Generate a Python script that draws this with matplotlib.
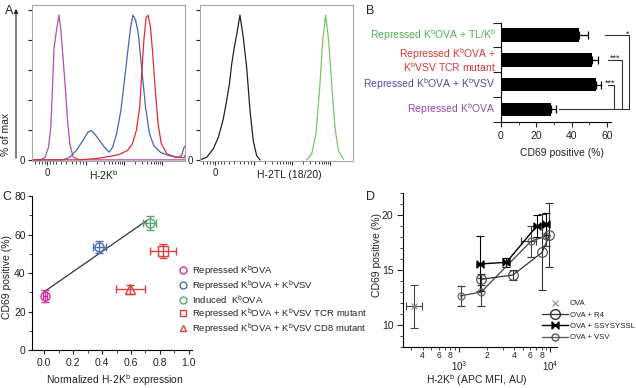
import numpy as np
import matplotlib
matplotlib.use("Agg")
import matplotlib.pyplot as plt
from matplotlib.path import Path
from matplotlib.lines import Line2D
from matplotlib.patches import FancyArrowPatch
from matplotlib.ticker import FixedLocator, FixedFormatter, NullFormatter

plt.rcParams['font.family'] = ['Liberation Sans', 'DejaVu Sans']
plt.rcParams['mathtext.fontset'] = 'custom'
plt.rcParams['mathtext.rm'] = 'Liberation Sans'
plt.rcParams['mathtext.it'] = 'Liberation Sans:italic'
plt.rcParams['font.size'] = 7.5
plt.rcParams['axes.linewidth'] = 0.8
plt.rcParams['xtick.major.width'] = 0.8
plt.rcParams['ytick.major.width'] = 0.8
plt.rcParams['xtick.minor.width'] = 0.6
plt.rcParams['ytick.minor.width'] = 0.6
plt.rcParams['text.color'] = '#222222'
plt.rcParams['xtick.color'] = '#222222'
plt.rcParams['ytick.color'] = '#222222'

# ---------------- data ----------------
# panel A left: H-2Kb histograms (channel 0-100, % of max)
rep_x = [0, 5.4, 8.6, 10.8, 12.3, 13.5, 14.4, 15.7, 17.6, 18.9, 20.4, 21.9, 23.2, 24.7, 26.9, 31.2, 100]
rep_y = [0, 0, 1.8, 8.8, 22.6, 52.7, 76.9, 87.3, 100, 89.6, 68.8, 48, 27.3, 11.1, 1.8, 0, 0]
vsv_x = [0, 20.4, 24.7, 29, 33.3, 36.6, 38.7, 40.9, 44.1, 47.3, 50.5, 52.7, 55.3, 58.1, 60.2, 62.4,
         64.5, 66, 67.7, 69.5, 71.6, 74.2, 76.8, 79.6, 83.9, 89.2, 95.7, 97.8, 99.4, 100]
vsv_y = [0, 0, 1.8, 6.5, 13.4, 19.2, 20.3, 18, 13.4, 8.8, 5.3, 8.8, 18, 34.2, 52.7, 73.4,
         91.9, 100, 96.5, 87.3, 64.2, 36.5, 18, 9.9, 5.3, 3, 1.8, 3, 8.8, 9.5]
tcr_x = [0, 31.2, 41.9, 50.5, 57, 62.4, 65.6, 68.2, 70.4, 72, 73.1, 74.6, 75.9, 77.4, 78.9,
         80.6, 82.4, 84.5, 88.2, 93.5, 99.4, 100]
tcr_y = [0, 0, 0.9, 2.3, 3.7, 6.5, 11.1, 20.3, 36.5, 64.2, 82.7, 98.4, 100, 91.9, 73.4,
         48, 24.9, 11.1, 4.2, 1.8, 1.5, 3]

# panel A right: H-2TL histograms
neg_x = [0, 4.4, 8.7, 12, 15.2, 17.4, 19.2, 20.7, 22.4, 24, 26.1, 28.3, 30.5, 32.7, 34.8, 37, 39.2]
neg_y = [0, 1.8, 7.6, 15.6, 28.2, 40.8, 52.3, 66.1, 77.5, 86.7, 100, 84.4, 63.8, 33.9, 13.3, 3, 0]
tl_x = [69.7, 73, 75.8, 78.4, 80.2, 82.1, 83.9, 86.1, 88.2, 90.4, 93.7]
tl_y = [0, 4.1, 17.9, 52.3, 82.1, 100, 84.4, 52.3, 22.5, 6.4, 0.5]

# panel B (bottom -> top)
b_labels = ['Repressed K$^{\\mathrm{b}}$OVA',
            'Repressed K$^{\\mathrm{b}}$OVA + K$^{\\mathrm{b}}$VSV',
            'Repressed K$^{\\mathrm{b}}$OVA +\nK$^{\\mathrm{b}}$VSV TCR mutant',
            'Repressed K$^{\\mathrm{b}}$OVA + TL/K$^{\\mathrm{b}}$']
b_colors = ['#9a48a8', '#4a4fa0', '#d93636', '#52b052']
b_values = [28, 53.5, 51.5, 44]
b_errors = [3, 3.3, 3.4, 5.1]
# (top bar index, x start, x of vertical, stars, star x, star y)
b_brackets = [(3, 59, 72.3, '*', 71.4, 3.05),
              (2, 60.5, 68.2, '***', 64.4, 2.08),
              (1, 60.6, 64.0, '***', 61.6, 1.07)]

# panel C
c_names = ['Repressed K$^{\\mathrm{b}}$OVA',
           'Repressed K$^{\\mathrm{b}}$OVA + K$^{\\mathrm{b}}$VSV',
           'Induced  K$^{\\mathrm{b}}$OVA',
           'Repressed K$^{\\mathrm{b}}$OVA + K$^{\\mathrm{b}}$VSV TCR mutant',
           'Repressed K$^{\\mathrm{b}}$OVA + K$^{\\mathrm{b}}$VSV CD8 mutant']
c_x = [0.005, 0.38, 0.73, 0.82, 0.595]
c_y = [28, 53.5, 66, 51.5, 31.5]
c_xerr = [0.015, 0.045, 0.045, 0.09, 0.1]
c_yerr = [3, 3, 3.5, 3.5, 2.2]
c_markers = ['o', 'o', 'o', 's', '^']
c_colors = ['#d0349a', '#4f6bb0', '#5aa870', '#d9403f', '#d9403f']
fit_x = [0.0, 0.71]
fit_y = [30.3, 67.3]

# panel D
ova_x, ova_y = [320], [11.7]
ova_xerr = [[60], [74]]
ova_yerr = [[2.0], [1.9]]
r4_x = [1750, 3900, 8100, 9750]
r4_y = [14.15, 14.55, 16.6, 18.2]
r4_yerr = [0.5, 0.45, 3.45, 2.9]
ss_x = [1700, 3300, 7100, 8900]
ss_y = [15.55, 15.7, 19.0, 19.2]
ss_yerr = [2.5, 0.4, 1.0, 1.0]
vsvd_x = [1040, 1750, 6100, 9000]
vsvd_y = [12.65, 13.0, 17.6, 18.1]
vsvd_yerr = [0.9, 1.25, 1.4, 0.9]
vsvd_xerr = [[0, 0, 1340, 0], [0, 0, 860, 0]]

# ---------------- layout helpers ----------------
W, H = 636, 388
fig = plt.figure(figsize=(W / 100, H / 100), dpi=100)


def px_axes(l, t, r, b):
    return fig.add_axes([l / W, 1 - b / H, (r - l) / W, (b - t) / H])


def ftext(x, y, s, **kw):
    fig.text(x / W, 1 - y / H, s, **kw)


# ---------------- panel A ----------------
hist_major = [10, 35, 60, 85]
hist_minor = [2, 4.5, 6.5, 8.5, 11.5, 13.5, 16, 19, 22.5, 26, 29, 31.5, 33.5]
for d in [35, 60]:
    hist_minor += [d + 25 * np.log10(k) for k in range(2, 10)]


def hist_axes(ax):
    for s in ax.spines.values():
        s.set_color('#a8a8a8')
        s.set_linewidth(0.8)
    ax.set_xlim(0, 100)
    ax.set_ylim(-0.8, 107)
    ax.set_yticks(np.linspace(0, 103.5, 6))
    ax.set_yticklabels(['0', '', '', '', '', ''])
    ax.xaxis.set_major_locator(FixedLocator(hist_major))
    ax.xaxis.set_major_formatter(FixedFormatter(['0', '', '', '']))
    ax.xaxis.set_minor_locator(FixedLocator(hist_minor))
    ax.tick_params(axis='both', which='major', length=3, pad=2, labelsize=7)
    ax.tick_params(axis='x', which='minor', length=2)


axA1 = px_axes(32, 5, 185, 161)
axA1.plot(rep_x, rep_y, color='#b050a8', lw=0.9)
axA1.plot(vsv_x, vsv_y, color='#5060b0', lw=0.9)
axA1.plot(tcr_x, tcr_y, color='#d83030', lw=0.9)
hist_axes(axA1)

axA2 = px_axes(200, 5, 353, 161)
axA2.plot(neg_x, neg_y, color='#222222', lw=0.9)
axA2.plot(tl_x, tl_y, color='#7cc46a', lw=0.9)
hist_axes(axA2)

fig.add_artist(FancyArrowPatch((16 / W, 1 - 161 / H), (16 / W, 1 - 6 / H),
                               transform=fig.transFigure, arrowstyle='-|>',
                               mutation_scale=6, lw=0.8, color='#222222'))
ftext(6, 134, '% of max', rotation=90, ha='center', va='center', fontsize=7.5)
ftext(104, 175, 'H-2K$^{\\mathrm{b}}$', ha='center', va='center', fontsize=7.5)
ftext(289, 175, 'H-2TL (18/20)', ha='center', va='center', fontsize=7.5)

# ---------------- panel B ----------------
axB = px_axes(501, 22.7, 610.7, 121.7)
yb = np.arange(len(b_values))
axB.barh(yb, b_values, height=0.55, color='black',
         xerr=[[0] * len(b_errors), b_errors],
         error_kw=dict(ecolor='black', capsize=3, elinewidth=0.9, capthick=0.9))
axB.set_xlim(0, 62)
axB.set_ylim(-0.5, 3.5)
axB.spines['top'].set_visible(False)
axB.spines['right'].set_visible(False)
axB.set_yticks([-0.5, 0.5, 1.5, 2.5, 3.5])
axB.set_yticklabels([])
axB.tick_params(axis='y', length=6)
axB.set_xticks([0, 20, 40, 60])
axB.set_xticks([10, 30, 50], minor=True)
axB.tick_params(axis='x', which='major', length=3.5, pad=3, labelsize=7.5)
axB.tick_params(axis='x', which='minor', length=2)
for i, (lab, col) in enumerate(zip(b_labels, b_colors)):
    axB.text(-3, yb[i], lab, color=col, ha='right', va='center',
             multialignment='right', fontsize=7.5, linespacing=0.85)
axB.plot([33, 72.3], [0, 0], color='#333333', lw=0.8, clip_on=False)
for top, x0, xv, stars, sx, sy in b_brackets:
    axB.plot([x0, xv, xv], [top, top, 0], color='#333333', lw=0.8, clip_on=False)
    axB.text(sx, sy, stars, ha='center', va='center', fontsize=6.5)
ftext(562, 153, 'CD69 positive (%)', ha='center', va='center', fontsize=7.5)

# ---------------- panel C ----------------
axC = px_axes(32, 196, 191.7, 350)
axC.plot(fit_x, fit_y, color='#333333', lw=0.9)
handles = []
for i in range(len(c_x)):
    axC.errorbar(c_x[i], c_y[i], xerr=c_xerr[i], yerr=c_yerr[i], fmt='none',
                 ecolor=c_colors[i], elinewidth=1.0, capsize=3, capthick=1.0)
    axC.plot(c_x[i], c_y[i], c_markers[i], ms=6.5, mfc='none', mec=c_colors[i], mew=1.0)
    handles.append(Line2D([], [], ls='none', marker=c_markers[i], ms=5, mfc='none',
                          mec=c_colors[i], mew=1.0))
axC.set_xlim(-0.085, 1.02)
axC.set_ylim(0, 80)
axC.spines['top'].set_visible(False)
axC.spines['right'].set_visible(False)
axC.set_xticks(np.arange(0, 1.01, 0.2))
axC.set_xticklabels(['0.0', '0.2', '0.4', '0.6', '0.8', '1.0'])
axC.set_xticks(np.arange(0.1, 1.0, 0.2), minor=True)
axC.set_yticks([0, 20, 40, 60, 80])
axC.set_yticks([10, 30, 50, 70], minor=True)
axC.tick_params(which='major', length=3, pad=1.5, labelsize=7.5)
axC.tick_params(axis='x', which='major', pad=3)
axC.tick_params(which='minor', length=2)
fig.legend(handles, c_names, loc='upper left', bbox_to_anchor=(179 / W, 1 - 263 / H),
           frameon=False, fontsize=6.8, handlelength=0.8, handletextpad=0.6,
           labelspacing=0.05, borderpad=0, borderaxespad=0)
ftext(7, 277, 'CD69 positive (%)', rotation=90, ha='center', va='center', fontsize=7.5)
ftext(115, 380, 'Normalized H-2K$^{\\mathrm{b}}$ expression', ha='center', va='center',
      fontsize=7.5)

# ---------------- panel D ----------------
bowtie = Path([(-1, -1), (0, 0), (-1, 1), (-1, -1), (1, -1), (0, 0), (1, 1), (1, -1)],
              [Path.MOVETO, Path.LINETO, Path.LINETO, Path.CLOSEPOLY,
               Path.MOVETO, Path.LINETO, Path.LINETO, Path.CLOSEPOLY])

axD = px_axes(402.5, 193, 557, 347)
eb = dict(elinewidth=0.8, capsize=3, capthick=0.8)
axD.errorbar(ova_x, ova_y, xerr=ova_xerr, yerr=ova_yerr, fmt='x', color='#888888',
             ecolor='#444444', ms=5, mew=0.8, **eb)
axD.errorbar(vsvd_x, vsvd_y, xerr=vsvd_xerr, yerr=vsvd_yerr, fmt='-o', color='#444444',
             ecolor='#444444', ms=5, mfc='none', mec='#666666', mew=0.9, lw=0.9, **eb)
axD.errorbar(r4_x, r4_y, yerr=r4_yerr, fmt='-o', color='#333333', ecolor='#333333',
             ms=7, mfc='none', mec='#444444', mew=0.8, lw=0.9, **eb)
axD.errorbar(ss_x, ss_y, yerr=ss_yerr, fmt='-', marker=bowtie, color='black',
             ecolor='black', ms=5, lw=1.0, **eb)
axD.set_xscale('log')
axD.set_xlim(241, 11800)
axD.set_ylim(8.0, 22.0)
axD.spines['top'].set_visible(False)
axD.spines['right'].set_visible(False)
axD.xaxis.set_major_locator(FixedLocator([1e3, 1e4]))
axD.xaxis.set_major_formatter(FixedFormatter(['10$^{3}$', '10$^{4}$']))
d_minor = [300, 400, 500, 600, 700, 800, 900, 2000, 3000, 4000, 5000, 6000, 7000, 8000, 9000]
d_minor_lab = ['', '4', '', '6', '', '8', '', '2', '', '4', '', '6', '', '8', '']
axD.xaxis.set_minor_locator(FixedLocator(d_minor))
axD.xaxis.set_minor_formatter(FixedFormatter(d_minor_lab))
axD.tick_params(axis='x', which='major', length=3.5, pad=5, labelsize=7)
axD.tick_params(axis='x', which='minor', length=2.5, pad=0.5, labelsize=6.2)
axD.set_yticks([10, 15, 20])
axD.yaxis.set_minor_locator(FixedLocator(list(range(8, 23))))
axD.yaxis.set_minor_formatter(NullFormatter())
axD.tick_params(axis='y', which='major', length=4, pad=2.5, labelsize=7.5)
axD.tick_params(axis='y', which='minor', length=2)
d_handles = [Line2D([], [], ls='none', marker='x', color='#888888', ms=5, mew=0.8),
             Line2D([], [], ls='-', marker='o', color='#333333', ms=7, mfc='none', lw=0.9),
             Line2D([], [], ls='-', marker=bowtie, color='black', ms=5, lw=1.0),
             Line2D([], [], ls='-', marker='o', color='#555555', ms=5, mfc='none', lw=0.9)]
d_labels = ['OVA', 'OVA + R4', 'OVA + SSYSYSSL', 'OVA + VSV']
fig.legend(d_handles, d_labels, loc='upper left', bbox_to_anchor=(542 / W, 1 - 300 / H),
           frameon=False, fontsize=5.6, handlelength=3.3, handletextpad=0.25,
           labelspacing=0.5, borderpad=0, borderaxespad=0)
ftext(377, 255, 'CD69 positive (%)', rotation=90, ha='center', va='center', fontsize=7.5)
ftext(477, 388, 'H-2K$^{\\mathrm{b}}$ (APC MFI, AU)', ha='center', va='bottom', fontsize=7.5)

# panel letters
ftext(5, 11, 'A', fontsize=9, ha='left', va='center')
ftext(366, 11, 'B', fontsize=9, ha='left', va='center')
ftext(2, 197, 'C', fontsize=9, ha='left', va='center')
ftext(366, 197, 'D', fontsize=9, ha='left', va='center')

fig.savefig('out.png', dpi=100)
